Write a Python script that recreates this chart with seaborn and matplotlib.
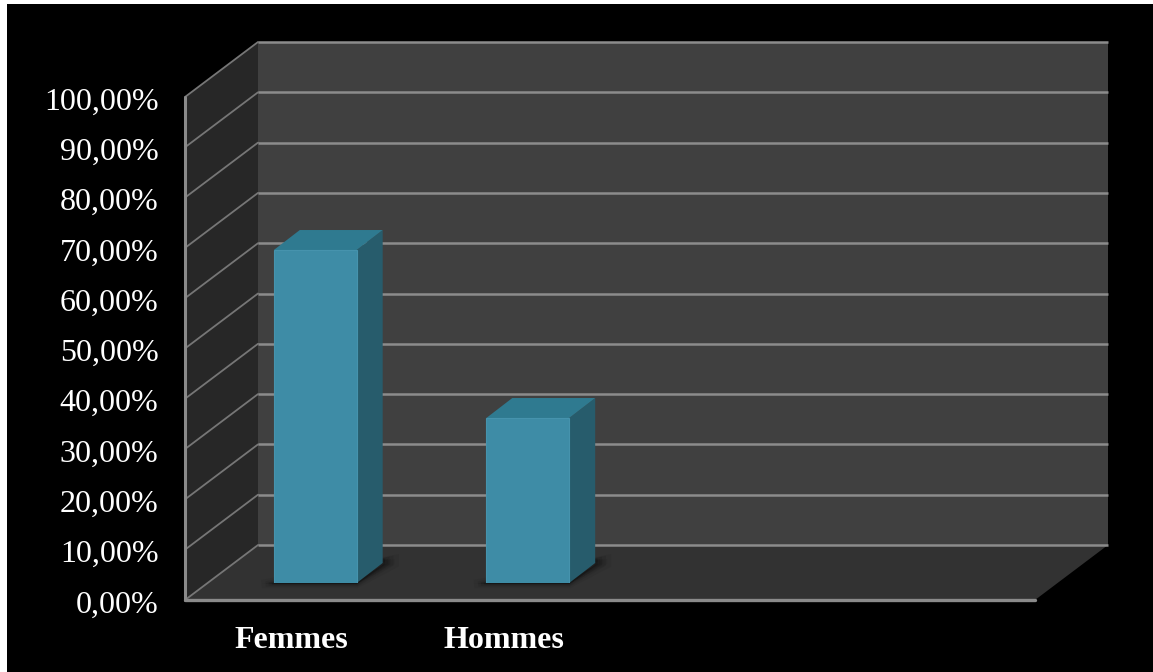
import matplotlib
matplotlib.use("Agg")
import matplotlib.pyplot as plt
from matplotlib.patches import Polygon, Rectangle
import pandas as pd
import seaborn as sns

categories = ["Femmes", "Hommes"]
values = [66.2, 32.8]
tick_values = [0, 10, 20, 30, 40, 50, 60, 70, 80, 90, 100]
tick_labels = ["0,00%", "10,00%", "20,00%", "30,00%", "40,00%", "50,00%",
               "60,00%", "70,00%", "80,00%", "90,00%", "100,00%"]

W, H = 1153, 672
sns.set_theme(style="white")
plt.rcParams["font.family"] = ["Liberation Serif", "DejaVu Serif"]

fig = plt.figure(figsize=(W / 100, H / 100), dpi=100, facecolor="white")


def axes_px(x0, y0, x1, y1, **kw):
    return fig.add_axes([x0 / W, 1 - y1 / H, (x1 - x0) / W, (y1 - y0) / H], **kw)


# Frame geometry in pixels
FX0, FX1, FY0, FY100 = 185, 1035, 600, 97   # front plane
DX, DY = 73, -55                            # depth of the chart box
BX, BY = 24, -17                            # bars stand part way into the box
SX, SY = 26, -20                            # depth of each bar

# Backdrop layer, in pixel coordinates
bg = axes_px(0, 0, W, H, zorder=0)
bg.set_xlim(0, W)
bg.set_ylim(H, 0)
bg.axis("off")
bg.add_patch(Rectangle((7, 4), W - 7, H - 4, fc="black", ec="none"))
bg.add_patch(Polygon([(FX0 + DX, FY0 + DY), (FX1 + DX, FY0 + DY), (FX1 + DX, FY100 + DY),
                      (FX0 + DX, FY100 + DY)], fc="#404040", ec="none"))
bg.add_patch(Polygon([(FX0, FY0), (FX0 + DX, FY0 + DY), (FX0 + DX, FY100 + DY), (FX0, FY100)],
                     fc="#272727", ec="none"))
bg.add_patch(Polygon([(FX0, FY0), (FX1, FY0), (FX1 + DX, FY0 + DY), (FX0 + DX, FY0 + DY)],
                     fc="#323232", ec="none"))

# Front plane: holds the value scale and category labels
ax = axes_px(FX0, FY100, FX1, FY0, zorder=3)
ax.patch.set_alpha(0)
ax.set_xlim(-0.5, 3.5)
ax.set_ylim(0, 100)
ax.set_yticks(tick_values, tick_labels)
ax.set_xticks(range(len(categories)), categories)
ax.tick_params(axis="y", length=0, pad=19, labelsize=23, labelcolor="white")
ax.tick_params(axis="x", length=0, pad=19, labelsize=23, labelcolor="white")
for lab in ax.get_xticklabels():
    lab.set_fontweight("bold")
for lab in ax.get_yticklabels():
    lab.set_y(lab.get_position()[1])
    lab.set_transform(lab.get_transform() + matplotlib.transforms.Affine2D().translate(0, -1.5))
for s in ax.spines.values():
    s.set_visible(False)

for t in tick_values:
    py = FY0 - (FY0 - FY100) * t / 100
    bg.plot([FX0, FX0 + DX], [py, py + DY], color="#767676", lw=1.3, solid_capstyle="round")
    bg.plot([FX0 + DX, FX1 + DX], [py + DY, py + DY], color="#8c8c8c", lw=1.8, solid_capstyle="butt")
bg.plot([FX0, FX0], [FY100, FY0], color="#8a8a8a", lw=2.2)
bg.plot([FX0, FX1], [FY0, FY0], color="#8a8a8a", lw=2.4)

# Bars, on a plane set back from the front of the box
ax_bar = axes_px(FX0 + BX, FY100 + BY, FX1 + BX, FY0 + BY, zorder=2)
ax_bar.patch.set_alpha(0)
df = pd.DataFrame({"categorie": categories, "valeur": values})
sns.barplot(data=df, x="categorie", y="valeur", ax=ax_bar, color="#3E8CA6", saturation=1,
            width=0.39, edgecolor="#4693AD", linewidth=0.8)
ax_bar.set_xlim(-0.5, 3.5)
ax_bar.set_ylim(0, 100)
ax_bar.axis("off")

# Side and top faces plus floor shadow, derived from the drawn bars
to_px = ax_bar.transData
for bar in ax_bar.patches:
    (x0, y1) = to_px.transform((bar.get_x(), bar.get_height()))
    (x1, y0) = to_px.transform((bar.get_x() + bar.get_width(), 0))
    y0, y1 = H - y0, H - y1
    for grow, a in [(12, 0.05), (8, 0.07), (5, 0.09), (2, 0.12)]:
        bg.add_patch(Polygon([(x0 - grow, y0 + 1), (x1, y0 + 1), (x1 + SX + grow, y0 + SY + 1),
                              (x1 + SX + grow, y0 + SY - 4)],
                             fc="black", ec="black", lw=grow * 0.5, alpha=a, zorder=1.5))
    bg.add_patch(Polygon([(x1, y1), (x1 + SX, y1 + SY), (x1 + SX, y0 + SY), (x1, y0)],
                         fc="#275C6C", ec="none", zorder=2.5))
    bg.add_patch(Polygon([(x0, y1), (x0 + SX, y1 + SY), (x1 + SX, y1 + SY), (x1, y1)],
                         fc="#2F7A90", ec="none", zorder=2.5))

fig.savefig("out.png", dpi=100, facecolor="white")
